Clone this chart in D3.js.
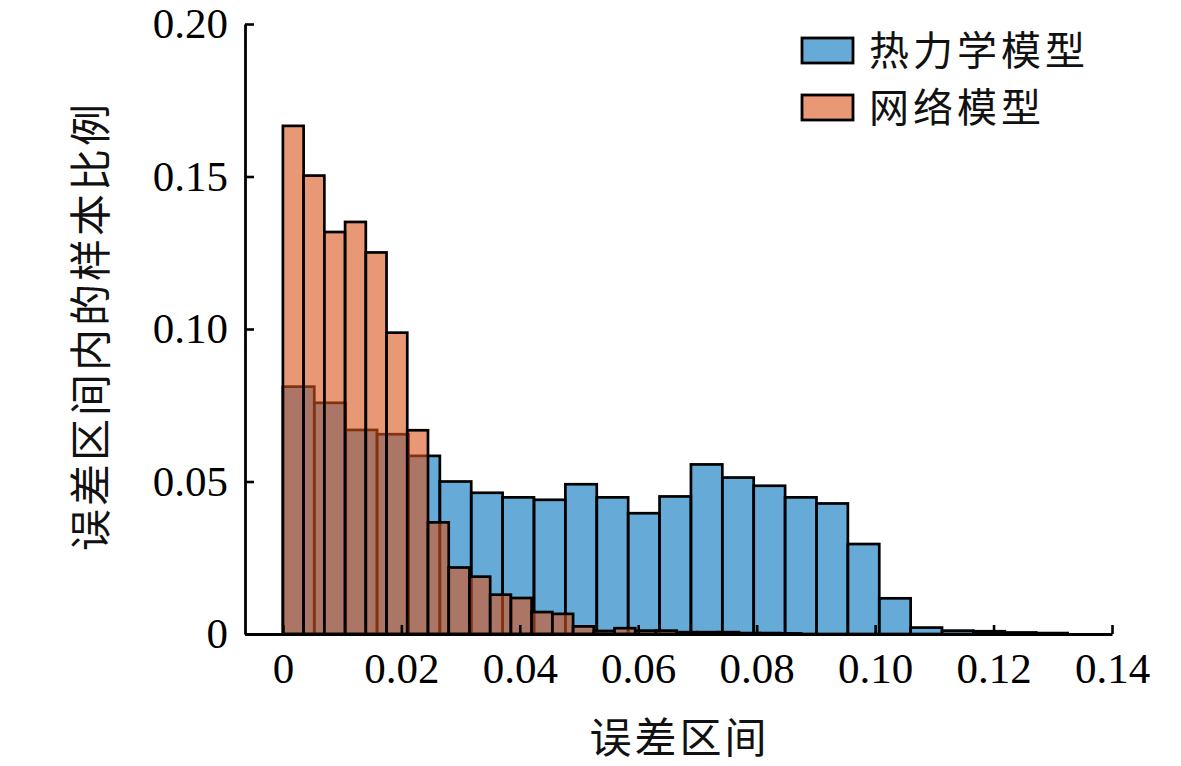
<!DOCTYPE html>
<html>
<head>
<meta charset="utf-8">
<script src="https://cdn.jsdelivr.net/npm/d3@7"></script>
<style>
  html, body { margin: 0; padding: 0; background: #ffffff; }
  svg { display: block; }
</style>
</head>
<body>
<svg id="chart" width="1181" height="766"></svg>
<script>
// ---------- data ----------
const seriesNames = ["热力学模型", "网络模型"];
const thermoBinWidth = 0.0053;
const thermoValues = [
  0.0811, 0.0758, 0.0669, 0.0655, 0.0584, 0.0500, 0.0463, 0.0448, 0.0440, 0.0491,
  0.0448, 0.0396, 0.0451, 0.0556, 0.0513, 0.0486, 0.0448, 0.0428, 0.0295, 0.0117,
  0.0021, 0.0011, 0.0009, 0.0005, 0.0003
];
const networkBinWidth = 0.0035;
const networkValues = [
  0.1666, 0.1503, 0.1318, 0.1351, 0.1251, 0.0988, 0.0668, 0.0366, 0.0218, 0.0188,
  0.0129, 0.0118, 0.0072, 0.0066, 0.0025, 0.0010, 0.0019, 0.0011, 0.0011, 0.0006,
  0.0006, 0.0006, 0.0003, 0.0003, 0.0002
];
const xTickValues = [0, 0.02, 0.04, 0.06, 0.08, 0.10, 0.12, 0.14];
const xTickLabels = ["0", "0.02", "0.04", "0.06", "0.08", "0.10", "0.12", "0.14"];
const yTickValues = [0, 0.05, 0.10, 0.15, 0.20];
const yTickLabels = ["0", "0.05", "0.10", "0.15", "0.20"];
const xTitle = "误差区间";
const yTitle = "误差区间内的样本比例";

// ---------- layout ----------
const svg = d3.select("#chart");
const plotLeft = 245, plotRight = 1112, plotTop = 24, plotBottom = 634;
const x = d3.scaleLinear().domain([-0.0064, 0.14]).range([plotLeft, plotRight]);
const y = d3.scaleLinear().domain([0, 0.20]).range([plotBottom, plotTop]);

const blue = "#0072bd", red = "#d95319";
const cjk = "'Noto Sans CJK SC', 'Noto Sans', sans-serif";
const serif = "'Liberation Serif', 'Times New Roman', serif";

function bins(values, w) {
  return values.map((v, i) => ({ x0: i * w, x1: (i + 1) * w, v }));
}

function drawBars(data, color) {
  svg.append("g").selectAll("rect").data(data).enter().append("rect")
    .attr("x", d => x(d.x0))
    .attr("y", d => y(d.v))
    .attr("width", d => x(d.x1) - x(d.x0))
    .attr("height", d => y(0) - y(d.v))
    .attr("fill", color)
    .attr("fill-opacity", 0.6)
    .attr("stroke", "#000")
    .attr("stroke-width", 2.7);
}

drawBars(bins(thermoValues, thermoBinWidth), blue);
drawBars(bins(networkValues, networkBinWidth), red);

// ---------- axes ----------
const xAxis = d3.axisBottom(x)
  .tickValues(xTickValues)
  .tickFormat((d, i) => xTickLabels[i])
  .tickSizeInner(-9).tickSizeOuter(0).tickPadding(18);
const gx = svg.append("g").attr("transform", `translate(0,${plotBottom})`).call(xAxis);

const yAxis = d3.axisLeft(y)
  .tickValues(yTickValues)
  .tickFormat((d, i) => yTickLabels[i])
  .tickSizeInner(-9).tickSizeOuter(0).tickPadding(17);
const gy = svg.append("g").attr("transform", `translate(${plotLeft},0)`).call(yAxis);

[gx, gy].forEach(g => {
  g.select(".domain").attr("stroke", "#000").attr("stroke-width", 2.8);
  g.selectAll(".tick line").attr("stroke", "#000").attr("stroke-width", 2.6);
  g.selectAll(".tick text").attr("fill", "#000")
    .style("font-family", serif).style("font-size", "43px");
});

// ---------- titles ----------
svg.append("text")
  .attr("x", (plotLeft + 1110) / 2 + 2).attr("y", 753)
  .attr("text-anchor", "middle")
  .style("font-family", cjk).style("font-size", "42px")
  .style("letter-spacing", "3px").attr("fill", "#111")
  .text(xTitle);

svg.append("text")
  .attr("transform", `translate(106,${(plotTop + plotBottom) / 2 - 3}) rotate(-90)`)
  .attr("text-anchor", "middle")
  .style("font-family", cjk).style("font-size", "42px")
  .style("letter-spacing", "3px").attr("fill", "#111")
  .text(yTitle);

// ---------- legend ----------
const legend = svg.append("g");
[blue, red].forEach((c, i) => {
  const yy = 38 + i * 57;
  legend.append("rect")
    .attr("x", 802).attr("y", yy).attr("width", 51).attr("height", 25)
    .attr("fill", c).attr("fill-opacity", 0.6)
    .attr("stroke", "#000").attr("stroke-width", 2.8);
  legend.append("text")
    .attr("x", 869).attr("y", yy + 27)
    .style("font-family", cjk).style("font-size", "40px")
    .style("letter-spacing", "4px").attr("fill", "#111")
    .text(seriesNames[i]);
});
</script>
</body>
</html>
